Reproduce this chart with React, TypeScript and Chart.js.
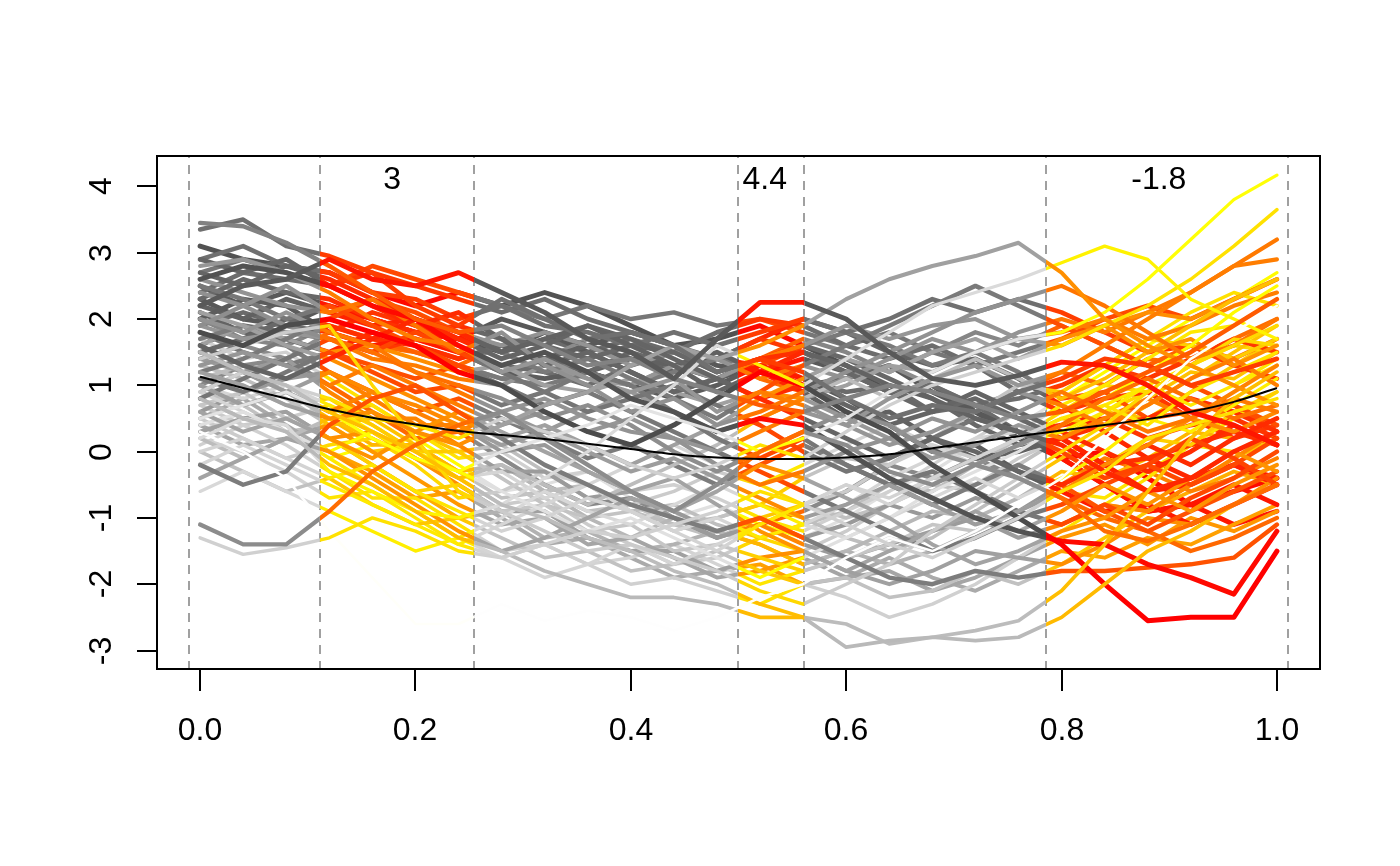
import React, { useEffect, useRef } from "react";
import { Chart, registerables } from "chart.js";

Chart.register(...registerables);

// ---------- data ----------
const xGrid = [0, 0.04, 0.08, 0.12, 0.16, 0.2, 0.24, 0.28, 0.32, 0.36, 0.4, 0.44, 0.48, 0.52, 0.56, 0.6, 0.64, 0.68, 0.72, 0.76, 0.8, 0.84, 0.88, 0.92, 0.96, 1.0];

const c01 = [2.2, 2.5, 2.6, 2.9, 2.6, 2.5, 2.7, 2.4, 2.1, 1.7, 1.5, 1.1, 1.7, 2.25, 2.25, 2.0, 1.5, 1.1, 1.0, 1.15, 1.35, 1.3, 1.0, 0.6, 0.4, 0.1];
const c02 = [3.45, 3.4, 3.15, 2.8, 2.4, 2.0, 1.8, 1.9, 1.6, 1.3, 1.4, 1.1, 0.9, 0.7, 0.6, 0.8, 1.0, 0.9, 0.7, 0.5, 0.6, 0.9, 1.2, 1.5, 1.9, 2.3];
const c03 = [3.35, 3.5, 3.1, 2.95, 2.7, 2.2, 1.9, 2.3, 2.0, 1.7, 1.8, 1.6, 1.2, 1.4, 1.2, 0.8, 0.5, 0.7, 0.6, 0.9, 1.1, 1.4, 1.3, 1.0, 1.2, 1.4];
const c04 = [-1.1, -1.4, -1.4, -0.9, -0.3, 0.1, 0.4, 0.6, 0.2, -0.2, -0.6, -0.9, -0.5, 0.0, 0.3, 0.1, -0.3, -0.5, -0.2, -0.4, -0.7, -1.2, -1.35, -1.1, -0.8, -0.5];
const c05 = [-1.3, -1.55, -1.45, -1.3, -1.0, -1.2, -1.5, -1.6, -1.4, -1.2, -1.3, -1.1, -0.9, -0.6, -0.8, -1.1, -1.4, -1.6, -1.3, -1.0, -0.6, -0.3, 0.2, 0.4, 0.6, 0.8];
const c06 = [0.3, 0.0, -0.4, -1.2, -1.9, -2.6, -2.6, -2.3, -2.55, -2.4, -2.5, -2.7, -2.5, -2.2, -2.0, -1.6, -1.3, -1.5, -1.2, -0.8, -0.4, 0.2, 0.8, 1.4, 1.8, 2.2];
const c07 = [0.8, 0.5, 0.3, -0.2, -0.5, -0.9, -1.3, -1.5, -1.8, -2.0, -2.2, -2.2, -2.3, -2.5, -2.5, -2.95, -2.85, -2.8, -2.85, -2.8, -2.5, -2.0, -1.5, -1.2, -0.8, -0.5];
const c08 = [1.5, 1.2, 1.0, 0.6, 0.3, 0.0, -0.4, -0.8, -1.0, -1.3, -1.5, -1.8, -2.0, -2.3, -2.5, -2.6, -2.9, -2.8, -2.7, -2.55, -2.1, -1.4, -0.6, 0.2, 0.8, 1.2];
const c09 = [1.2, 1.0, 0.7, 0.5, 0.6, 0.3, 0.1, 0.4, 0.7, 0.9, 1.3, 1.6, 1.4, 1.6, 1.9, 2.3, 2.6, 2.8, 2.95, 3.15, 2.7, 2.0, 1.6, 1.3, 1.0, 0.7];
const c10 = [0.5, 0.7, 0.9, 0.6, 0.2, -0.1, -0.3, 0.0, 0.2, 0.4, 0.7, 0.5, 0.3, 0.0, 0.2, 0.5, 0.9, 1.2, 1.5, 1.7, 1.8, 2.1, 2.6, 3.2, 3.8, 4.17];
const c11 = [0.2, 0.5, 0.4, -0.3, -0.6, -0.9, -1.0, -0.8, -0.4, 0.0, 0.5, 1.0, 1.6, 1.3, 1.0, 1.4, 1.8, 2.2, 2.4, 2.6, 2.85, 3.1, 2.9, 2.3, 2.0, 1.7];
const c12 = [1.8, 1.6, 1.9, 2.0, 1.8, 1.6, 1.2, 1.0, 0.6, 0.3, 0.1, 0.4, 0.8, 1.2, 1.0, 0.6, 0.3, -0.2, -0.6, -1.0, -1.4, -2.0, -2.55, -2.5, -2.5, -1.5];
const c13 = [2.6, 2.8, 2.7, 2.5, 2.2, 2.0, 1.6, 1.3, 1.5, 1.2, 0.8, 0.6, 0.3, 0.5, 0.4, 0.0, -0.4, -0.7, -1.0, -1.2, -1.35, -1.4, -1.7, -1.9, -2.15, -1.2];
const c14 = [-0.2, -0.5, -0.3, 0.4, 0.8, 1.0, 0.6, 0.2, -0.2, -0.5, -0.8, -1.0, -1.2, -1.0, -1.3, -1.6, -1.9, -2.0, -1.8, -1.9, -1.8, -1.8, -1.75, -1.7, -1.6, -1.1];
const c15 = [1.4, 1.6, 1.8, 1.9, 1.0, 0.2, -0.6, -0.9, -1.2, -1.5, -1.4, -1.6, -1.8, -2.1, -2.3, -2.0, -1.7, -1.2, -0.8, -0.4, 0.0, 0.4, 0.9, 1.3, 1.6, 1.9];
const c16 = [0.9, 1.2, 1.0, 0.8, 0.5, 0.4, 0.2, 0.5, 0.3, 0.1, -0.2, -0.4, -0.2, 0.1, -0.1, 0.3, 0.7, 1.0, 1.2, 1.4, 1.6, 1.9, 2.2, 2.6, 3.1, 3.65];
const c17 = [2.8, 2.9, 2.7, 2.4, 2.0, 1.7, 1.6, 1.2, 1.4, 1.1, 0.9, 1.1, 0.6, 0.9, 0.7, 0.4, 0.8, 1.1, 1.3, 1.0, 1.2, 1.6, 2.0, 2.4, 2.8, 2.9];
const c18 = [2.0, 1.8, 2.1, 1.8, 1.6, 1.2, 0.9, 0.6, 0.8, 0.5, 0.3, 0.2, -0.2, -0.5, -0.3, 0.0, 0.2, 0.5, 0.3, 0.6, 0.9, 0.6, 0.3, 0.5, 0.8, 0.6];
const c19 = [1.6, 1.3, 1.1, 1.4, 1.7, 2.0, 1.8, 1.5, 1.7, 1.9, 1.6, 1.3, 0.9, 1.2, 1.5, 1.3, 1.0, 0.8, 0.5, 0.3, 0.1, -0.3, -0.6, -0.4, 0.0, 0.3];
const c20 = [0.0, 0.2, -0.1, -0.4, -0.2, -0.6, -0.9, -1.2, -1.0, -0.7, -0.9, -1.2, -1.5, -1.1, -0.8, -0.5, -0.7, -0.4, -0.1, 0.2, 0.5, 0.7, 0.4, 0.9, 1.2, 1.5];
const c21 = [1.0, 0.7, 0.9, 1.2, 0.9, 0.7, 0.4, 0.1, 0.3, 0.0, -0.3, -0.1, -0.4, -0.7, -1.0, -0.8, -0.5, -0.8, -1.1, -0.9, -0.6, -0.2, 0.1, 0.5, 0.3, 0.6];
const c22 = [2.4, 2.2, 2.5, 2.1, 2.3, 1.9, 1.5, 1.8, 1.3, 1.0, 0.6, 0.8, 0.4, 0.6, 0.9, 1.2, 1.5, 1.8, 2.1, 2.3, 2.5, 2.2, 1.8, 1.4, 1.6, 2.0];
const c23 = [0.6, 0.3, 0.5, 0.2, -0.1, 0.3, 0.6, 0.3, 0.0, -0.3, -0.6, -0.4, -0.8, -1.2, -1.5, -1.8, -1.5, -1.2, -0.9, -1.2, -0.9, -0.5, -0.8, -0.4, 0.0, -0.3];
const c24 = [1.9, 2.2, 1.9, 1.7, 1.5, 1.2, 1.0, 0.8, 0.5, 0.7, 0.4, 0.0, -0.3, 0.0, 0.3, 0.6, 0.4, 0.0, -0.2, 0.1, 0.4, 0.8, 1.1, 0.8, 0.5, 0.7];
const c25 = [-0.4, -0.1, 0.2, 0.0, -0.4, -0.8, -1.2, -1.5, -1.3, -1.0, -0.7, -0.9, -0.6, -0.2, -0.4, -0.7, -1.0, -1.4, -1.7, -1.5, -1.2, -1.0, -0.6, -0.9, -0.5, -0.2];
const c26 = [1.3, 1.5, 1.3, 1.0, 1.3, 1.0, 0.7, 0.4, 0.6, 0.3, 0.5, 0.2, 0.0, 0.3, 0.6, 0.4, 0.1, 0.3, 0.6, 0.9, 0.7, 0.4, 0.7, 1.1, 1.4, 1.0];
const c27 = [2.7, 2.5, 2.8, 2.6, 2.3, 2.0, 1.7, 1.4, 1.6, 1.9, 1.7, 1.4, 1.1, 0.8, 0.5, 0.2, -0.1, 0.2, 0.0, -0.3, -0.5, -0.2, 0.1, -0.2, 0.2, 0.5];
const c28 = [0.4, 0.6, 0.3, 0.0, 0.3, 0.0, -0.3, -0.6, -0.9, -1.2, -1.0, -1.3, -1.6, -1.9, -1.6, -1.3, -1.0, -0.6, -0.3, 0.0, 0.4, 0.8, 1.2, 1.6, 2.1, 2.5];
const c29 = [1.1, 0.9, 1.2, 1.5, 1.2, 0.9, 1.0, 0.7, 0.9, 1.2, 1.0, 0.6, 0.2, -0.1, 0.2, -0.2, -0.5, -0.3, -0.6, -0.9, -1.1, -0.8, -1.1, -0.7, -0.4, 0.0];
const c30 = [-0.6, -0.3, -0.6, -0.9, -1.2, -1.5, -1.3, -1.0, -0.6, -0.9, -1.1, -0.8, -0.5, -0.8, -1.1, -1.3, -1.0, -0.7, -0.4, -0.7, -0.4, 0.0, 0.5, 0.3, 0.7, 1.1];
const c31 = [2.1, 1.9, 1.6, 1.4, 1.1, 0.8, 0.5, 0.2, 0.4, 0.1, -0.2, 0.1, 0.4, 0.8, 1.1, 1.4, 1.2, 1.5, 1.7, 1.4, 1.7, 1.9, 1.5, 1.7, 1.3, 1.6];
const c32 = [0.8, 1.1, 1.4, 1.7, 1.5, 1.8, 1.5, 1.2, 0.9, 0.6, 0.8, 1.0, 0.7, 0.4, 0.0, -0.3, -0.1, 0.2, 0.5, 0.3, 0.0, -0.4, -0.2, 0.2, -0.1, -0.5];
const c33 = [1.5, 1.2, 0.9, 0.6, 0.9, 0.6, 0.3, 0.6, 0.3, 0.6, 0.9, 0.6, 0.3, 0.5, 0.8, 0.5, 0.2, -0.1, 0.1, 0.4, 0.2, 0.5, 0.8, 0.5, 0.9, 1.3];
const c34 = [-0.2, 0.1, -0.2, -0.5, -0.8, -1.1, -1.4, -1.1, -0.8, -0.5, -0.2, 0.1, -0.2, -0.5, -0.2, 0.1, 0.4, 0.1, -0.2, 0.1, 0.3, 0.6, 1.0, 1.3, 1.0, 1.4];
const c35 = [2.5, 2.3, 2.0, 2.2, 1.9, 1.6, 1.3, 1.0, 0.7, 0.9, 0.6, 0.3, 0.0, -0.3, -0.6, -0.9, -1.2, -1.5, -1.3, -1.0, -0.8, -0.5, -0.2, -0.5, -0.2, 0.2];
const c36 = [0.2, -0.1, 0.2, 0.5, 0.2, -0.1, -0.4, -0.2, -0.5, -0.8, -0.5, -0.2, 0.1, 0.5, 0.8, 1.1, 0.8, 1.1, 1.4, 1.1, 0.8, 1.1, 1.5, 1.9, 2.3, 2.6];
const c37 = [1.7, 1.9, 1.6, 1.2, 0.9, 0.6, 0.8, 0.5, 0.2, -0.1, 0.1, -0.2, -0.5, -0.2, 0.1, -0.2, -0.5, -0.8, -0.5, -0.2, -0.5, -0.9, -1.2, -0.9, -0.6, -0.3];
const c38 = [2.9, 2.7, 2.9, 2.5, 2.2, 1.9, 2.1, 1.7, 1.3, 1.5, 1.2, 0.9, 1.1, 0.8, 1.0, 0.7, 0.4, 0.6, 0.9, 0.6, 0.3, 0.0, -0.3, 0.0, 0.4, 0.1];
const c39 = [0.9, 0.6, 0.3, -0.1, -0.5, -0.9, -1.3, -1.6, -1.9, -1.7, -1.4, -1.7, -1.4, -1.1, -0.8, -0.5, -0.8, -0.5, -0.2, 0.1, 0.4, 0.7, 1.0, 0.7, 1.0, 1.3];
const c40 = [1.2, 1.4, 1.7, 2.0, 2.3, 2.1, 1.8, 1.5, 1.2, 1.4, 1.1, 0.8, 0.5, 0.9, 1.3, 1.6, 1.9, 2.2, 2.5, 2.2, 1.9, 1.6, 1.3, 1.0, 0.7, 0.4];
const c41 = [1.6, 1.9, 1.7, 1.5, 1.6, 1.4, 1.2, 1.3, 1.0, 0.9, 1.1, 0.9, 0.7, 0.9, 0.8, 1.0, 1.3, 1.2, 1.5, 1.7, 1.6, 1.9, 2.1, 2.0, 2.3, 2.6];
const c42 = [0.7, 0.9, 0.5, 0.2, -0.2, -0.6, -0.5, -0.9, -0.8, -1.2, -1.1, -1.5, -1.4, -1.6, -1.8, -1.6, -1.4, -1.1, -1.2, -0.9, -0.6, -0.2, 0.2, 0.1, 0.6, 0.9];
const c43 = [2.3, 2.6, 2.4, 2.3, 2.0, 1.8, 1.9, 1.7, 1.6, 1.4, 1.6, 1.5, 1.2, 1.4, 1.5, 1.2, 0.9, 0.6, 0.8, 0.5, 0.2, 0.4, 0.5, 0.8, 0.6, 0.3];
const c44 = [1.0, 0.8, 1.0, 0.7, 0.3, -0.1, -0.4, -0.3, -0.7, -0.5, -0.9, -1.2, -1.0, -1.3, -1.1, -0.8, -0.4, -0.1, 0.2, 0.3, 0.7, 1.0, 1.4, 1.8, 1.9, 2.3];
const c45 = [1.9, 1.7, 1.8, 1.7, 1.4, 1.3, 1.1, 1.0, 1.3, 1.1, 1.0, 1.3, 1.1, 1.4, 1.6, 1.9, 1.7, 1.9, 2.0, 1.7, 1.8, 2.0, 1.7, 1.9, 2.2, 2.4];
const c46 = [0.3, 0.5, 0.6, 0.2, 0.3, -0.1, -0.5, -0.9, -0.9, -1.3, -1.5, -1.5, -1.8, -1.6, -1.5, -1.8, -2.0, -1.8, -1.5, -1.6, -1.7, -1.4, -1.0, -1.1, -0.8, -0.4];
const c47 = [2.6, 2.4, 2.2, 2.1, 2.3, 2.0, 1.8, 1.6, 1.8, 1.6, 1.3, 1.5, 1.4, 1.1, 1.3, 1.1, 1.4, 1.7, 1.5, 1.8, 2.0, 1.8, 2.1, 2.4, 2.8, 3.2];
const c48 = [1.4, 1.2, 1.4, 0.9, 0.5, 0.5, 0.1, -0.3, -0.3, -0.7, -0.6, -1.0, -1.3, -1.1, -1.4, -1.6, -1.4, -1.2, -1.0, -1.3, -1.1, -0.8, -0.9, -0.5, -0.1, 0.3];
const c49 = [0.5, 0.2, -0.1, 0.1, 0.2, -0.2, -0.7, -0.6, -0.3, -0.5, -0.8, -0.6, -0.3, -0.5, -0.8, -0.6, -0.2, 0.1, -0.1, 0.2, 0.6, 1.0, 0.9, 1.3, 1.7, 1.6];
const c50 = [2.0, 2.3, 2.2, 1.8, 1.6, 1.7, 1.5, 1.2, 1.1, 1.2, 1.0, 0.8, 1.0, 1.3, 1.1, 0.8, 0.4, 0.0, 0.1, -0.3, -0.6, -0.9, -0.8, -1.1, -0.8, -0.5];
const c51 = [1.2, 1.0, 0.7, 0.8, 0.4, 0.0, 0.0, -0.4, -0.8, -1.0, -0.9, -1.2, -1.0, -0.8, -0.4, -0.1, -0.2, 0.2, 0.6, 1.0, 0.9, 1.3, 1.7, 1.6, 1.4, 1.7];
const c52 = [2.2, 2.0, 2.3, 2.1, 1.9, 2.0, 1.7, 1.6, 1.4, 1.6, 1.4, 1.3, 1.5, 1.2, 0.9, 0.5, 0.6, 0.2, -0.1, 0.0, 0.2, -0.2, -0.6, -0.5, -0.2, -0.4];
const c53 = [0.0, -0.3, -0.6, -0.4, -0.8, -1.1, -1.0, -1.3, -1.6, -1.5, -1.8, -1.7, -1.5, -1.8, -2.0, -1.9, -2.2, -2.1, -1.8, -2.0, -1.7, -1.3, -0.9, -0.5, -0.1, 0.2];
const c54 = [1.5, 1.7, 2.0, 1.9, 1.7, 1.6, 1.4, 1.6, 1.4, 1.2, 1.5, 1.3, 1.1, 1.4, 1.6, 1.4, 1.1, 0.8, 0.4, 0.1, 0.2, -0.2, -0.1, 0.1, 0.3, 0.1];
const c55 = [0.9, 1.2, 0.9, 0.5, 0.1, 0.1, -0.3, -0.2, -0.6, -1.0, -1.3, -1.0, -1.2, -1.4, -1.7, -1.5, -1.2, -0.9, -1.0, -0.7, -0.3, -0.4, -0.1, 0.3, 0.2, 0.5];
const c56 = [2.9, 3.1, 2.8, 2.7, 2.4, 2.3, 2.0, 2.2, 1.9, 1.8, 1.6, 1.8, 1.6, 1.8, 2.0, 1.8, 2.0, 2.3, 2.1, 2.3, 2.1, 1.8, 1.5, 1.6, 1.3, 1.1];
const c57 = [0.1, 0.4, 0.1, -0.3, -0.7, -0.7, -1.1, -1.5, -1.4, -1.7, -2.0, -1.9, -2.1, -2.3, -2.0, -2.2, -2.5, -2.3, -2.0, -1.6, -1.2, -0.8, -0.4, 0.1, 0.5, 0.9];
const c58 = [1.8, 1.5, 1.3, 1.5, 1.3, 1.1, 1.3, 1.1, 1.0, 1.2, 1.0, 1.2, 1.4, 1.3, 1.6, 1.8, 1.6, 1.3, 1.5, 1.2, 0.8, 0.9, 0.5, 0.6, 0.7, 0.3];
const c59 = [0.6, 0.9, 1.1, 1.2, 0.8, 0.4, 0.4, 0.0, 0.1, -0.3, -0.6, -0.9, -1.2, -1.0, -1.3, -1.1, -0.8, -1.0, -0.7, -0.9, -0.5, -0.1, -0.3, -0.6, -0.4, -0.1];
const c60 = [2.4, 2.7, 2.6, 2.5, 2.7, 2.5, 2.3, 2.1, 2.3, 2.0, 1.8, 1.6, 1.4, 1.7, 1.5, 1.2, 0.9, 1.0, 0.7, 0.8, 1.0, 1.3, 1.1, 1.4, 1.7, 1.5];
const c61 = [1.3, 1.1, 0.8, 0.4, 0.5, 0.1, -0.3, -0.2, -0.6, -0.5, -0.9, -1.1, -1.0, -0.8, -1.0, -1.3, -1.5, -1.3, -0.9, -0.5, -0.1, 0.3, 0.7, 1.1, 1.5, 1.9];
const c62 = [0.4, 0.1, 0.2, 0.4, 0.0, -0.4, -0.8, -1.1, -1.0, -1.4, -1.3, -1.6, -1.9, -1.8, -1.6, -1.9, -1.8, -2.1, -1.9, -1.6, -1.3, -1.1, -1.4, -1.0, -1.2, -0.9];
const c63 = [2.1, 1.8, 1.7, 1.5, 1.8, 1.6, 1.4, 1.6, 1.4, 1.2, 1.4, 1.2, 1.4, 1.7, 2.0, 1.8, 1.5, 1.3, 1.4, 1.1, 0.7, 0.3, -0.1, -0.4, -0.2, -0.5];
const c64 = [1.7, 1.4, 1.5, 1.1, 0.7, 0.3, -0.1, 0.0, -0.4, -0.3, -0.6, -0.5, -0.7, -1.0, -1.2, -0.9, -0.6, -0.2, 0.2, 0.6, 0.9, 1.3, 1.7, 2.1, 2.4, 2.2];
const c65 = [0.8, 0.5, 0.6, 0.2, -0.2, -0.6, -1.0, -0.9, -1.3, -1.2, -1.5, -1.4, -1.2, -1.4, -1.7, -1.5, -1.7, -1.5, -1.2, -0.9, -1.1, -0.8, -0.9, -0.6, -0.3, -0.5];
const c66 = [2.5, 2.2, 2.4, 2.2, 2.0, 1.8, 1.7, 1.5, 1.8, 1.6, 1.8, 1.6, 1.3, 1.2, 1.4, 1.2, 0.9, 1.0, 0.6, 0.3, -0.1, -0.5, -0.9, -0.8, -0.5, -0.8];
const c67 = [1.1, 1.3, 0.9, 0.6, 0.7, 0.3, 0.0, 0.1, -0.3, -0.7, -0.9, -0.8, -1.1, -1.3, -1.1, -0.9, -0.5, -0.6, -0.2, 0.2, 0.5, 0.4, 0.8, 1.2, 1.1, 1.5];
const c68 = [0.2, 0.0, -0.3, -0.7, -0.6, -1.0, -1.4, -1.6, -1.4, -1.7, -1.6, -1.4, -1.7, -2.0, -1.8, -1.6, -1.3, -1.5, -1.3, -1.0, -0.6, -0.7, -0.3, 0.1, 0.0, 0.3];
const c69 = [1.6, 1.9, 1.8, 1.7, 1.5, 1.7, 1.5, 1.3, 1.2, 1.0, 1.3, 1.5, 1.8, 2.0, 1.9, 1.6, 1.4, 1.6, 1.3, 0.9, 0.6, 0.8, 0.9, 0.5, 0.2, 0.4];
const c70 = [0.7, 0.4, 0.5, 0.7, 0.4, 0.0, -0.4, -0.8, -0.7, -1.1, -1.4, -1.7, -1.6, -1.3, -1.5, -1.2, -0.8, -0.4, -0.5, -0.1, 0.2, 0.6, 0.9, 1.3, 1.6, 1.5];
const c71 = [2.0, 1.7, 1.6, 1.9, 1.7, 1.5, 1.3, 1.1, 1.4, 1.2, 1.0, 1.3, 1.1, 1.4, 1.7, 1.5, 1.2, 1.5, 1.8, 1.6, 1.9, 1.6, 1.3, 1.6, 1.4, 1.7];
const c72 = [1.0, 1.3, 1.4, 1.0, 0.6, 0.2, 0.3, -0.1, -0.5, -0.8, -0.7, -1.0, -1.3, -1.1, -0.9, -0.6, -0.2, -0.4, -0.1, -0.4, -0.7, -1.0, -1.2, -1.5, -1.3, -1.0];
const c73 = [2.7, 2.9, 2.7, 2.5, 2.8, 2.6, 2.4, 2.2, 2.0, 2.2, 2.0, 2.1, 1.9, 2.0, 1.8, 1.6, 1.8, 1.5, 1.3, 1.5, 1.7, 2.0, 2.2, 2.0, 2.3, 2.6];
const c74 = [0.5, 0.8, 0.4, 0.0, -0.3, -0.7, -0.6, -1.0, -1.4, -1.3, -1.6, -1.9, -1.8, -1.7, -2.0, -1.9, -1.6, -1.9, -2.1, -1.8, -1.5, -1.6, -1.3, -1.4, -1.1, -0.8];
const c75 = [1.4, 1.6, 1.4, 1.8, 1.6, 1.5, 1.3, 1.6, 1.4, 1.7, 1.5, 1.2, 1.4, 1.1, 0.9, 1.1, 1.3, 1.0, 0.7, 0.9, 1.2, 1.0, 1.4, 1.3, 1.7, 2.0];
const c76 = [2.3, 2.0, 1.9, 2.2, 2.0, 1.8, 1.7, 2.0, 1.8, 1.5, 1.2, 0.9, 1.1, 1.3, 1.0, 1.1, 1.3, 0.9, 0.6, 0.2, -0.1, -0.5, -0.9, -0.8, -1.1, -0.9];
const c77 = [0.9, 0.7, 0.3, 0.4, 0.0, 0.1, -0.3, -0.7, -0.6, -0.9, -0.8, -1.1, -1.3, -1.0, -0.8, -1.0, -0.8, -0.5, -0.6, -0.2, 0.2, 0.6, 0.5, 0.9, 1.3, 1.7];
const c78 = [1.9, 2.1, 1.9, 1.8, 2.1, 1.9, 1.7, 1.5, 1.7, 1.5, 1.7, 1.5, 1.2, 1.4, 1.1, 0.9, 1.0, 0.6, 0.7, 0.3, 0.4, 0.5, 0.2, 0.4, 0.5, 0.2];
const c79 = [0.3, 0.6, 0.3, -0.1, 0.1, 0.2, -0.2, -0.6, -0.5, -0.3, -0.7, -1.0, -0.8, -1.1, -1.3, -1.0, -0.6, -0.3, 0.1, 0.4, 0.8, 1.2, 1.6, 2.0, 2.3, 2.7];
const c80 = [3.1, 2.9, 2.8, 2.7, 2.4, 2.2, 2.4, 2.2, 2.4, 2.2, 1.9, 1.6, 1.7, 1.9, 1.6, 1.3, 0.9, 1.0, 0.6, 0.3, -0.1, 0.0, -0.4, -0.8, -0.6, -0.4];

const curves = [c01, c02, c03, c04, c05, c06, c07, c08, c09, c10, c11, c12, c13, c14, c15, c16, c17, c18, c19, c20,
  c21, c22, c23, c24, c25, c26, c27, c28, c29, c30, c31, c32, c33, c34, c35, c36, c37, c38, c39, c40,
  c41, c42, c43, c44, c45, c46, c47, c48, c49, c50, c51, c52, c53, c54, c55, c56, c57, c58, c59, c60,
  c61, c62, c63, c64, c65, c66, c67, c68, c69, c70, c71, c72, c73, c74, c75, c76, c77, c78, c79, c80];

const meanCurve = [1.13, 0.96, 0.8, 0.64, 0.51, 0.41, 0.31, 0.25, 0.19, 0.12, 0.04, -0.04, -0.09, -0.11, -0.11, -0.09, -0.04, 0.05, 0.14, 0.23, 0.32, 0.4, 0.49, 0.6, 0.75, 0.96];

const breakPoints = [-0.0104, 0.1112, 0.2545, 0.4994, 0.5612, 0.7856, 1.01];
const coefValues = [3, 4.4, -1.8];
const coefLabels = ["3", "4.4", "-1.8"];
const coefLabelX = [0.1783, 0.5244, 0.8903];
const xTicks = [0, 0.2, 0.4, 0.6, 0.8, 1.0];
const xTickLabels = ["0.0", "0.2", "0.4", "0.6", "0.8", "1.0"];
const yTicks = [-3, -2, -1, 0, 1, 2, 3, 4];
const yTickLabels = ["-3", "-2", "-1", "0", "1", "2", "3", "4"];

// ---------- helpers ----------
const FONT = '32px "Liberation Sans", Arial, Helvetica, sans-serif';

const sigIntervals = [
  [breakPoints[1], breakPoints[2]],
  [breakPoints[3], breakPoints[4]],
  [breakPoints[5], breakPoints[6]],
];
const greyIntervals = [
  [-1, breakPoints[1]],
  [breakPoints[2], breakPoints[3]],
  [breakPoints[4], breakPoints[5]],
  [breakPoints[6], 2],
];

function heatColors(n: number): number[][] {
  const j = Math.floor(n / 4);
  const i = n - j;
  const out: number[][] = [];
  for (let k = 0; k < i; k++) {
    const h = i > 1 ? (k / (i - 1)) * 60 : 0;
    out.push([255, Math.round((255 * h) / 60), 0]);
  }
  for (let k = 0; k < j; k++) {
    const s = j > 1 ? 1 - 1 / (2 * j) - (k * (1 - 1 / j)) / (j - 1) : 0.5;
    out.push([255, 255, Math.round(255 * (1 - s))]);
  }
  return out;
}

function intervalMean(c: number[], a: number, b: number) {
  const vals = c.filter((_, idx) => xGrid[idx] >= a && xGrid[idx] <= b);
  return vals.reduce((s, v) => s + v, 0) / vals.length;
}

function buildDatasets() {
  const n = curves.length;
  const pal = heatColors(n);
  const response = curves.map((c) =>
    sigIntervals.reduce((s, [a, b], k) => s + coefValues[k] * (b - a) * intervalMean(c, a, b), 0)
  );
  const hi = Math.max(...response);
  const lo = Math.min(...response);
  const sets: any[] = [];
  curves.forEach((c, i) => {
    const t = Math.pow((hi - response[i]) / (hi - lo), 1.25);
    const col = pal[Math.round(t * (n - 1))];
    const lum = Math.round(0.299 * col[0] + 0.587 * col[1] + 0.114 * col[2]);
    const w = 5 - 2.4 * t;
    const pts = c.slice(0, xGrid.length).map((y, idx) => ({ x: xGrid[idx], y }));
    const base = {
      data: pts,
      pointRadius: 0,
      tension: 0,
      fill: false,
      order: 1,
      borderWidth: w,
      borderCapStyle: "round",
      borderJoinStyle: "round",
    };
    sets.push({ ...base, borderColor: `rgb(${lum},${lum},${lum})`, zone: greyIntervals });
    sets.push({ ...base, borderColor: `rgb(${col[0]},${col[1]},${col[2]})`, zone: sigIntervals });
  });
  sets.push({
    data: meanCurve.map((y, idx) => ({ x: xGrid[idx], y })),
    borderColor: "#000000",
    borderWidth: 2,
    pointRadius: 0,
    tension: 0.4,
    cubicInterpolationMode: "monotone",
    fill: false,
    order: 0,
  });
  return sets;
}

const framePlugin = {
  id: "rframe",
  beforeDatasetsDraw(chart: any) {
    const { ctx, chartArea: a, scales } = chart;
    const xs = scales.x;
    ctx.save();
    ctx.strokeStyle = "#a0a0a0";
    ctx.lineWidth = 2;
    ctx.setLineDash([9, 7]);
    ctx.lineDashOffset = 7;
    for (const b of breakPoints) {
      const px = Math.round(xs.getPixelForValue(b));
      ctx.beginPath();
      ctx.moveTo(px, a.top);
      ctx.lineTo(px, a.bottom);
      ctx.stroke();
    }
    ctx.restore();
  },
  beforeDatasetDraw(chart: any, args: any) {
    const ds = chart.data.datasets[args.index];
    if (!ds || !ds.zone) return;
    const { ctx, chartArea: a, scales } = chart;
    const xs = scales.x;
    ctx.save();
    ctx.beginPath();
    for (const [lo, hi] of ds.zone) {
      const p0 = Math.max(a.left, xs.getPixelForValue(lo));
      const p1 = Math.min(a.right, xs.getPixelForValue(hi));
      if (p1 > p0) ctx.rect(p0, a.top, p1 - p0, a.bottom - a.top);
    }
    ctx.clip();
  },
  afterDatasetDraw(chart: any, args: any) {
    const ds = chart.data.datasets[args.index];
    if (!ds || !ds.zone) return;
    chart.ctx.restore();
  },
  afterDraw(chart: any) {
    const { ctx, chartArea: a, scales } = chart;
    const xs = scales.x;
    const ys = scales.y;
    ctx.save();
    ctx.strokeStyle = "#000000";
    ctx.fillStyle = "#000000";
    ctx.lineWidth = 2;
    ctx.setLineDash([]);
    ctx.strokeRect(a.left, a.top, a.right - a.left, a.bottom - a.top);
    ctx.font = FONT;
    ctx.textAlign = "center";
    ctx.textBaseline = "alphabetic";
    xTicks.forEach((v, k) => {
      const px = Math.round(xs.getPixelForValue(v));
      ctx.beginPath();
      ctx.moveTo(px, a.bottom);
      ctx.lineTo(px, a.bottom + 22);
      ctx.stroke();
      ctx.fillText(xTickLabels[k], px, 740);
    });
    yTicks.forEach((v, k) => {
      const py = Math.round(ys.getPixelForValue(v));
      ctx.beginPath();
      ctx.moveTo(a.left, py);
      ctx.lineTo(a.left - 20, py);
      ctx.stroke();
      ctx.save();
      ctx.translate(111, py);
      ctx.rotate(-Math.PI / 2);
      ctx.fillText(yTickLabels[k], 0, 0);
      ctx.restore();
    });
    coefLabels.forEach((t, k) => {
      ctx.fillText(t, xs.getPixelForValue(coefLabelX[k]), 189);
    });
    ctx.restore();
  },
};

export default function App() {
  const ref = useRef<HTMLCanvasElement | null>(null);
  useEffect(() => {
    if (!ref.current) return;
    const chart = new Chart(ref.current, {
      type: "line",
      data: { datasets: buildDatasets() },
      options: {
        animation: false,
        responsive: false,
        devicePixelRatio: 1,
        events: [],
        layout: { padding: { left: 157, top: 156, right: 80, bottom: 197 } },
        scales: {
          x: { type: "linear", min: -0.04, max: 1.04, display: false },
          y: { type: "linear", min: -3.279, max: 4.459, display: false },
        },
        plugins: { legend: { display: false }, tooltip: { enabled: false } },
      },
      plugins: [framePlugin],
    } as any);
    return () => chart.destroy();
  }, []);
  return (
    <div style={{ position: "absolute", left: 0, top: 0, width: 1400, height: 866, background: "#ffffff" }}>
      <canvas ref={ref} width={1400} height={866} />
    </div>
  );
}
